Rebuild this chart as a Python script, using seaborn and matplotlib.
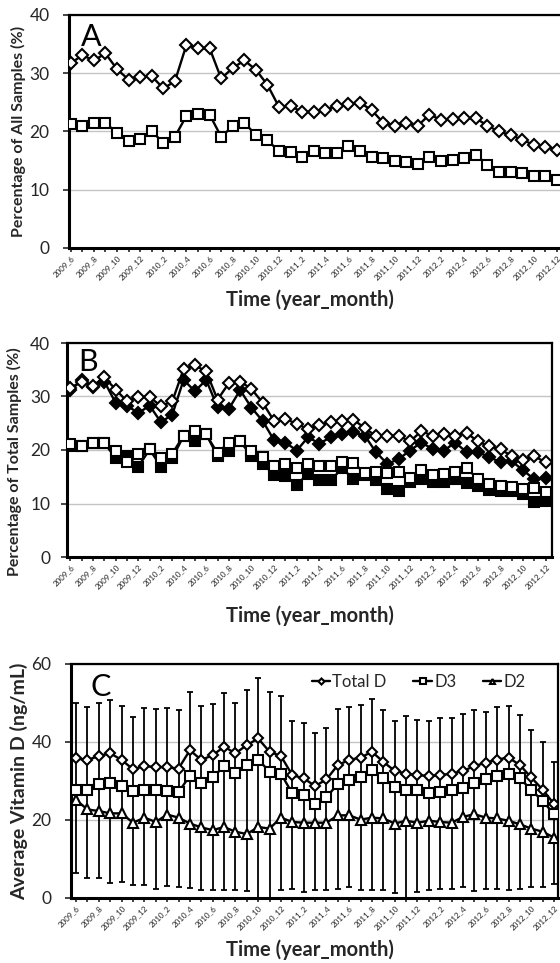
import numpy as np
import pandas as pd
import matplotlib
matplotlib.use("Agg")
import matplotlib.pyplot as plt
import seaborn as sns

sns.set_theme(style="white")
plt.rcParams['font.family'] = ['Lato', 'DejaVu Sans']

# ---------------- data ----------------
month_labels = [
    "2009_6", "2009_7", "2009_8", "2009_9", "2009_10", "2009_11", "2009_12",
    "2010_1", "2010_2", "2010_3", "2010_4", "2010_5", "2010_6", "2010_7", "2010_8",
    "2010_9", "2010_10", "2010_11", "2010_12",
    "2011_1", "2011_2", "2011_3", "2011_4", "2011_5", "2011_6", "2011_7", "2011_8",
    "2011_9", "2011_10", "2011_11", "2011_12",
    "2012_1", "2012_2", "2012_3", "2012_4", "2012_5", "2012_6", "2012_7", "2012_8",
    "2012_9", "2012_10", "2012_11", "2012_12",
]

# Panel A
a_diamond = [31.7, 33.1, 32.2, 33.4, 30.7, 28.9, 29.3, 29.5, 27.4, 28.6, 34.9, 34.3, 34.3,
             29.1, 30.9, 32.2, 30.6, 28.0, 24.2, 24.4, 23.3, 23.4, 23.7, 24.4, 24.7, 24.9,
             23.7, 21.5, 21.0, 21.5, 21.0, 22.9, 22.0, 22.1, 22.3, 22.3, 21.0, 20.0, 19.4,
             18.6, 17.7, 17.4, 16.9]
a_square = [21.3, 20.9, 21.5, 21.5, 19.7, 18.3, 18.7, 20.0, 18.1, 19.1, 22.7, 23.0, 22.9,
            19.1, 20.9, 21.5, 19.4, 18.5, 16.6, 16.4, 15.6, 16.6, 16.3, 16.3, 17.5, 16.7,
            15.7, 15.4, 14.9, 14.7, 14.5, 15.7, 14.9, 15.1, 15.4, 16.0, 14.3, 13.1, 13.0,
            12.9, 12.4, 12.3, 11.6]

# Panel B
b_open_diamond = [31.6, 32.8, 32.0, 33.6, 31.3, 29.1, 29.9, 29.9, 28.2, 29.1, 35.1, 35.8, 34.7,
                  29.4, 32.5, 32.8, 31.4, 28.8, 25.4, 25.8, 24.9, 23.9, 24.7, 25.2, 25.4, 25.7,
                  24.1, 22.6, 22.7, 22.7, 21.6, 23.5, 22.7, 22.9, 22.7, 23.2, 21.6, 20.7, 20.1,
                  18.9, 18.2, 18.8, 17.7]
b_filled_diamond = [31.2, 33.0, 31.8, 32.8, 28.8, 28.3, 26.9, 28.3, 25.2, 26.6, 33.1, 31.0, 33.1,
                    28.0, 27.7, 31.2, 27.9, 25.4, 21.8, 21.4, 19.9, 22.4, 21.2, 22.4, 22.9, 23.3,
                    22.7, 19.6, 17.4, 18.3, 19.9, 21.4, 20.2, 19.9, 21.4, 19.6, 19.6, 18.7, 17.7,
                    17.9, 16.2, 14.5, 14.8]
b_open_square = [21.2, 20.8, 21.4, 21.3, 19.9, 17.7, 19.3, 20.1, 18.5, 19.3, 22.7, 23.5, 22.9,
                 19.4, 21.4, 21.6, 19.9, 18.7, 17.1, 17.3, 16.6, 17.3, 17.1, 17.1, 17.7, 17.6,
                 15.7, 15.8, 15.7, 15.8, 14.8, 16.3, 15.4, 15.6, 15.8, 16.6, 14.6, 13.7, 13.3,
                 13.1, 12.7, 12.9, 12.1]
b_filled_square = [20.8, 20.8, 21.4, 21.3, 18.5, 18.9, 16.9, 20.1, 16.9, 18.5, 22.6, 21.6, 22.9,
                   18.9, 19.8, 21.6, 18.9, 17.4, 15.4, 15.2, 13.5, 15.6, 14.3, 14.3, 16.6, 14.6,
                   15.4, 14.3, 12.7, 12.3, 14.1, 14.5, 14.0, 14.0, 14.5, 13.8, 13.3, 12.5, 12.3,
                   12.3, 11.7, 10.2, 10.4]

# Panel C
c_total = [35.8, 35.4, 36.4, 37.1, 35.4, 33.0, 33.8, 33.6, 33.5, 33.2, 37.9, 35.4, 36.6,
           38.8, 37.1, 39.2, 40.9, 37.5, 36.4, 31.5, 30.7, 28.7, 30.4, 34.1, 35.4, 36.0,
           37.5, 34.9, 32.6, 31.9, 31.5, 31.3, 31.5, 31.9, 32.6, 33.8, 34.7, 35.5, 36.0,
           34.1, 30.9, 27.8, 24.1]
c_d3 = [27.8, 27.8, 29.2, 29.5, 28.7, 27.5, 27.8, 27.8, 27.5, 27.2, 31.3, 29.4, 30.9,
        33.8, 32.1, 34.1, 35.5, 32.4, 31.9, 26.8, 26.4, 24.2, 25.9, 29.2, 30.2, 31.1,
        32.8, 30.7, 28.5, 27.7, 27.7, 26.8, 27.2, 27.7, 28.3, 29.4, 30.4, 31.3, 31.9,
        30.7, 27.7, 24.9, 21.5]
c_d2 = [25.1, 22.7, 22.3, 21.7, 21.7, 19.3, 20.6, 19.5, 21.4, 20.6, 19.1, 18.1, 17.4,
        18.2, 17.0, 16.4, 18.2, 17.8, 20.6, 19.5, 19.3, 19.3, 19.3, 21.2, 21.2, 20.1,
        20.6, 20.4, 19.1, 19.8, 19.3, 19.8, 19.5, 19.3, 20.8, 21.5, 20.6, 20.4, 19.8,
        18.9, 17.8, 17.0, 15.5]
c_err_top = [50.1, 49.1, 50.1, 50.8, 49.2, 46.3, 48.6, 48.5, 48.6, 48.2, 52.7, 49.2, 49.7,
             52.5, 50.1, 53.3, 56.3, 52.7, 51.8, 45.5, 44.9, 42.2, 43.5, 48.4, 49.1, 49.5,
             50.9, 48.2, 45.5, 46.7, 45.6, 45.5, 46.1, 46.1, 47.2, 48.2, 47.8, 48.9, 49.2,
             46.9, 43.1, 40.1, 34.9]
c_err_bottom = [6.4, 5.1, 5.1, 3.9, 4.1, 3.3, 3.3, 2.2, 3.0, 2.8, 2.6, 2.1, 2.0,
                2.0, 2.1, 1.8, -2.0, -2.0, 2.0, 2.4, 1.5, 2.1, 2.1, 2.4, 2.8, 2.0,
                2.1, 2.1, 1.3, -2.0, 1.5, 2.1, 2.4, 2.4, 2.8, 1.8, 2.4, 2.4, 2.1,
                2.4, 2.7, 2.7, 3.5]

# ---------------- figure ----------------
W, H = 560, 963
fig = plt.figure(figsize=(W / 100, H / 100), dpi=100)


def px_axes(left, top, right, bottom):
    return fig.add_axes([left / W, 1 - bottom / H, (right - left) / W, (bottom - top) / H])


axA = px_axes(69, 15, 562, 248)
axB = px_axes(67, 343, 552, 557)
axC = px_axes(71, 664, 558, 898)

x = np.arange(len(month_labels))
tick_labels = [lab if i % 2 == 0 else "" for i, lab in enumerate(month_labels)]

LW = 1.7
MEW = 1.5


def series(ax, vals, marker, ms, fill, label=None, z=3):
    df = pd.DataFrame({"x": x, "y": vals})
    sns.lineplot(data=df, x="x", y="y", ax=ax, color="black", linewidth=LW,
                 marker=marker, markersize=ms, markerfacecolor=fill,
                 markeredgecolor="black", markeredgewidth=MEW, label=label,
                 zorder=z, legend=False)


def style_axis(ax, ymax, ystep, letter, letter_pos, ypad):
    ax.set_ylim(0, ymax)
    ax.set_yticks(np.arange(0, ymax + 0.1, ystep))
    ax.yaxis.grid(True, color="#c4c4c4", linewidth=1.0)
    ax.xaxis.grid(False)
    ax.set_axisbelow(True)
    ax.set_xticks(x)
    ax.set_xticklabels(tick_labels, rotation=45, ha="right", rotation_mode="anchor",
                       fontsize=5.8, color="#222222")
    ax.tick_params(axis="x", direction="out", length=3, width=1.2, pad=1.5, bottom=True)
    ax.tick_params(axis="y", direction="out", length=4, width=1.2, pad=ypad, left=True,
                   labelsize=12.5)
    for s in ax.spines.values():
        s.set_color("black")
        s.set_linewidth(1.6)
    ax.spines["left"].set_linewidth(2.2)
    ax.spines["bottom"].set_linewidth(2.2)
    ax.set_xlabel("")
    ax.set_ylabel("")
    ax.text(letter_pos[0], letter_pos[1], letter, transform=ax.transAxes,
            fontsize=22, va="top", ha="left", color="black")


# Panel A
series(axA, a_diamond, "D", 6.2, "white")
series(axA, a_square, "s", 7.0, "white")
axA.set_xlim(-0.15, 42.45)
style_axis(axA, 40, 10, "A", (0.024, 0.965), 10)

# Panel B
series(axB, b_filled_diamond, "D", 6.2, "black", z=3)
series(axB, b_open_diamond, "D", 6.2, "white", z=4)
series(axB, b_filled_square, "s", 7.0, "black", z=3)
series(axB, b_open_square, "s", 7.0, "white", z=4)
axB.set_xlim(-0.3, 42.55)
style_axis(axB, 40, 10, "B", (0.024, 0.975), 8)

# Panel C
tot = np.array(c_total)
axC.errorbar(x, tot, yerr=[tot - np.array(c_err_bottom), np.array(c_err_top) - tot],
             fmt="none", ecolor="black", elinewidth=1.3, capsize=2.3, capthick=1.3, zorder=2)
series(axC, c_total, "D", 5.6, "white", label="Total D", z=4)
series(axC, c_d3, "s", 7.0, "white", label="D3", z=4)
series(axC, c_d2, "^", 6.5, "white", label="D2", z=4)
axC.set_xlim(-0.45, 42.35)
style_axis(axC, 60, 20, "C", (0.04, 0.962), 10)
handles, labels = axC.get_legend_handles_labels()
axC.legend(handles, labels, ncol=3, frameon=False, loc="upper right",
           bbox_to_anchor=(0.965, 1.02), fontsize=12, markerscale=0.55,
           handlelength=1.1, handletextpad=0.15, columnspacing=1.6)

# axis titles
for yc in (300, 616, 950):
    fig.text(310 / W, 1 - yc / H, "Time (year_month)", ha="center", va="center",
             fontsize=14.5, fontweight="bold")

fig.text(18 / W, 1 - 131 / H, "Percentage of All Samples (%)", rotation=90,
         ha="center", va="center", fontsize=11.5, fontweight="bold")
fig.text(14 / W, 1 - 462 / H, "Percentage of Total Samples (%)", rotation=90,
         ha="center", va="center", fontsize=11.5, fontweight="bold")
fig.text(19 / W, 1 - 781 / H, "Average Vitamin D (ng/mL)", rotation=90,
         ha="center", va="center", fontsize=14, fontweight="bold")

fig.savefig("out.png", dpi=100)
